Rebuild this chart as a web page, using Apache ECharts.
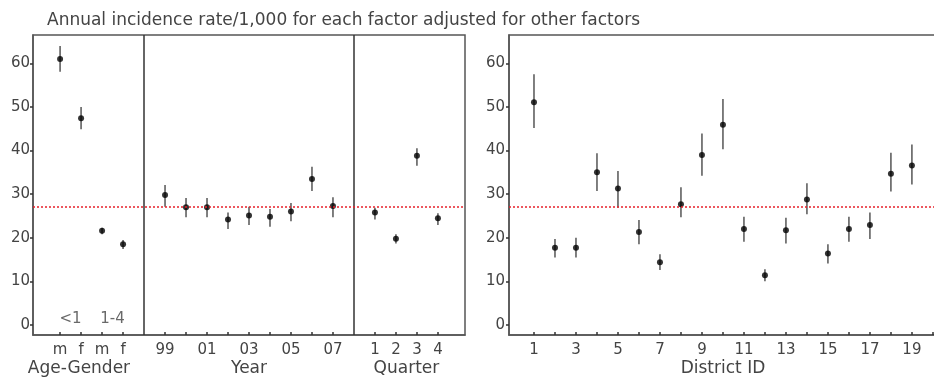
<!DOCTYPE html>
<html>
<head>
<meta charset="utf-8">
<script src="https://cdn.jsdelivr.net/npm/echarts@6.0.0/dist/echarts.min.js"></script>
<style>html,body{margin:0;padding:0;background:#fff;}#c{width:934px;height:378px;}</style>
</head>
<body>
<div id="c"></div>
<script>
// ---------- data ----------
const titleText = 'Annual incidence rate/1,000 for each factor adjusted for other factors';
const overallRate = 27.0;
const yTicks = [0, 10, 20, 30, 40, 50, 60];

const ageLabels = ['m', 'f', 'm', 'f'];
const ageMean = [61.0, 47.4, 21.6, 18.5];
const ageLow  = [58.1, 44.9, 20.8, 17.4];
const ageHigh = [64.0, 50.0, 22.3, 19.5];
const groupLabels = ['<1', '1-4'];

const yearLabels = ['99', '00', '01', '02', '03', '04', '05', '06', '07'];
const yearMean = [29.8, 27.0, 27.0, 24.2, 25.1, 24.8, 26.0, 33.5, 27.3];
const yearLow  = [27.1, 24.7, 24.7, 22.0, 22.9, 22.5, 23.8, 30.7, 24.7];
const yearHigh = [32.1, 29.1, 29.1, 25.8, 27.1, 26.6, 28.0, 36.3, 29.3];

const quarterLabels = ['1', '2', '3', '4'];
const quarterMean = [25.8, 19.8, 38.8, 24.5];
const quarterLow  = [24.2, 18.7, 36.5, 22.9];
const quarterHigh = [26.9, 20.8, 40.5, 25.6];

const districtIds = [1, 2, 3, 4, 5, 6, 7, 8, 9, 10, 11, 12, 13, 14, 15, 16, 17, 18, 19];
const districtMean = [51.1, 17.7, 17.7, 35.0, 31.3, 21.3, 14.4, 27.7, 39.0, 45.9, 22.0, 11.4, 21.7, 28.8, 16.4, 22.0, 22.9, 34.7, 36.6];
const districtLow  = [45.2, 15.5, 15.5, 30.7, 26.9, 18.5, 12.6, 24.7, 34.2, 40.3, 19.1, 10.0, 18.7, 25.4, 14.1, 19.1, 19.7, 30.6, 32.2];
const districtHigh = [57.5, 19.7, 20.0, 39.4, 35.3, 24.1, 16.2, 31.6, 43.9, 51.8, 24.8, 12.8, 24.6, 32.5, 18.5, 24.8, 25.8, 39.5, 41.4];

const axisNames = ['Age-Gender', 'Year', 'Quarter', 'District ID'];

// ---------- layout helpers ----------
const FONT = 'DejaVu Sans';
const TXT = '#444';
const AX = '#555';
const ageStart = 1, yearStart = 6, quarterStart = 16;
const div1 = 5, div2 = 15;
const yMin = -2.3, yMax = 66.5;

const tickLabelMap = {};
ageLabels.forEach((l, i) => tickLabelMap[ageStart + i] = l);
yearLabels.forEach((l, i) => tickLabelMap[yearStart + i] = (i % 2 === 0 ? l : ''));
quarterLabels.forEach((l, i) => tickLabelMap[quarterStart + i] = l);
const leftTickPos = Object.keys(tickLabelMap).map(Number);
const rightTickPos = districtIds.concat([20]);
const rightLabelPos = districtIds.filter(d => d % 2 === 1);

function rows(start, mean, low, high) {
  return mean.map((m, i) => [start + i, m, low[i], high[i]]);
}
const leftRows = rows(ageStart, ageMean, ageLow, ageHigh)
  .concat(rows(yearStart, yearMean, yearLow, yearHigh))
  .concat(rows(quarterStart, quarterMean, quarterLow, quarterHigh));
const rightRows = districtIds.map((d, i) => [d, districtMean[i], districtLow[i], districtHigh[i]]);

function errRender(params, api) {
  const x = api.value(0);
  const p1 = api.coord([x, api.value(2)]);
  const p2 = api.coord([x, api.value(3)]);
  return { type: 'line', shape: { x1: p1[0], y1: p1[1], x2: p2[0], y2: p2[1] },
           style: { stroke: '#555', lineWidth: 1.5 } };
}

function xAxisCfg(gridIndex, min, max, tickPos, labelPos, fmt) {
  return {
    type: 'value', gridIndex, min, max, position: 'bottom',
    axisLine: { show: true, onZero: false, lineStyle: { color: AX, width: 1.5 } },
    axisTick: { show: true, inside: true, length: 3, customValues: tickPos, lineStyle: { color: '#333', width: 1.5 } },
    axisLabel: { show: true, inside: false, customValues: labelPos, formatter: fmt, margin: 8, color: TXT, fontSize: 15, fontFamily: FONT },
    splitLine: { show: false }
  };
}
function yAxisCfg(gridIndex, margin) {
  return {
    type: 'value', gridIndex, min: yMin, max: yMax, position: 'left',
    axisLine: { show: true, onZero: false, lineStyle: { color: AX, width: 1.5 } },
    axisTick: { show: true, inside: false, length: 3, customValues: yTicks, lineStyle: { color: '#333', width: 1.5 } },
    axisLabel: { show: true, inside: false, customValues: yTicks, margin: margin, color: TXT, fontSize: 15, fontFamily: FONT },
    splitLine: { show: false }
  };
}

const chart = echarts.init(document.getElementById('c'), null, { renderer: 'canvas' });
const refLine = {
  silent: true, symbol: 'none',
  label: { show: false },
  lineStyle: { color: '#e8202a', type: [2, 2], width: 1.5 },
  data: [{ yAxis: overallRate }]
};

chart.setOption({
  animation: false,
  backgroundColor: '#fff',
  title: { text: titleText, left: 42, top: 7,
           textStyle: { fontSize: 17, fontWeight: 'normal', color: TXT, fontFamily: FONT } },
  grid: [
    { left: 33, top: 35, width: 432, height: 300, show: true, borderColor: AX, borderWidth: 1.5, outerBoundsMode: 'none', containLabel: false },
    { left: 509, top: 35, width: 430, height: 300, show: true, borderColor: AX, borderWidth: 1.5, outerBoundsMode: 'none', containLabel: false }
  ],
  xAxis: [
    xAxisCfg(0, -0.29, 20.29, leftTickPos, leftTickPos, v => tickLabelMap[v] || ''),
    xAxisCfg(1, -0.19, 20.29, rightTickPos, rightLabelPos, v => String(v))
  ],
  yAxis: [yAxisCfg(0, 3), yAxisCfg(1, 4)],
  series: [
    { type: 'custom', xAxisIndex: 0, yAxisIndex: 0, renderItem: errRender, data: leftRows, z: 2,
      markLine: {
        silent: true, symbol: 'none', label: { show: false },
        lineStyle: { color: '#333', type: 'solid', width: 1.5 },
        data: [{ xAxis: div1 }, { xAxis: div2 }]
      } },
    { type: 'scatter', xAxisIndex: 0, yAxisIndex: 0, data: leftRows.map(r => [r[0], r[1]]),
      symbol: 'circle', symbolSize: 6, itemStyle: { color: '#000' }, z: 3, markLine: refLine },
    { type: 'scatter', xAxisIndex: 0, yAxisIndex: 0, symbolSize: 0, z: 3,
      data: groupLabels.map((g, i) => ({ name: g, value: [ageStart + 0.5 + 2 * i, 1.4] })),
      label: { show: true, position: 'inside', formatter: p => p.name, color: TXT, fontSize: 15, fontFamily: FONT } },
    { type: 'custom', xAxisIndex: 1, yAxisIndex: 1, renderItem: errRender, data: rightRows, z: 2 },
    { type: 'scatter', xAxisIndex: 1, yAxisIndex: 1, data: rightRows.map(r => [r[0], r[1]]),
      symbol: 'circle', symbolSize: 6, itemStyle: { color: '#000' }, z: 3, markLine: refLine }
  ]
});

// axis titles placed through the axes' own scales
const namePos = [[0, 1.9], [0, yearStart + (yearLabels.length - 1) / 2], [0, quarterStart + (quarterLabels.length - 1) / 2], [1, 10]];
const graphics = namePos.map((np, i) => {
  const p = chart.convertToPixel({ xAxisIndex: np[0], yAxisIndex: np[0] }, [np[1], yMin]);
  return { type: 'text', x: p[0], y: p[1] + 34,
           style: { text: axisNames[i], fill: TXT, font: '17px "' + FONT + '"', align: 'center', verticalAlign: 'middle' } };
});
chart.setOption({ graphic: graphics });
</script>
</body>
</html>
